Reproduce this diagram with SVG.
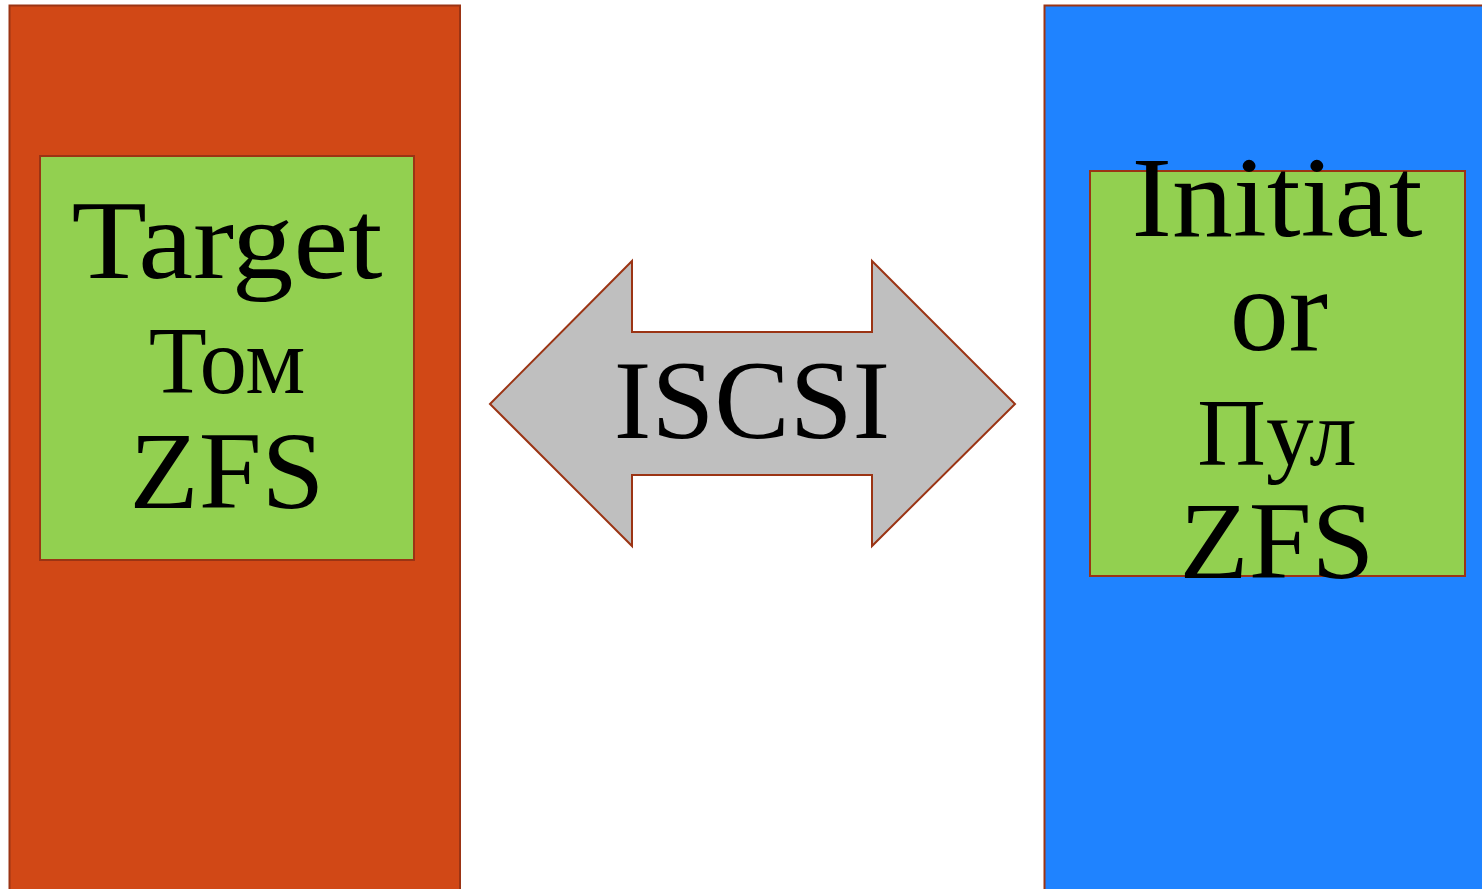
<svg xmlns="http://www.w3.org/2000/svg" width="1482" height="889" viewBox="0 0 1482 889">
  <style>
    .edge { stroke: #9b3414; stroke-width: 2; }
    .lbl { font-family: "Liberation Serif", "Times New Roman", serif; fill: #000; text-anchor: middle; }
  </style>
  <rect width="1482" height="889" fill="#ffffff"/>

  <!-- target host -->
  <g id="target-host">
    <rect class="edge" x="9.5" y="5.5" width="450.5" height="895" fill="#d14816"/>
  </g>
  <g id="target-volume">
    <rect class="edge" x="40" y="156" width="374" height="404" fill="#92d050"/>
    <text class="lbl" x="227" y="278" font-size="112" textLength="311" lengthAdjust="spacingAndGlyphs">Target</text>
    <text class="lbl" x="227" y="393" font-size="95">Том</text>
    <text class="lbl" x="227" y="508" font-size="110" textLength="195" lengthAdjust="spacingAndGlyphs">ZFS</text>
  </g>

  <!-- initiator host -->
  <g id="initiator-host">
    <rect class="edge" x="1044.5" y="5.5" width="450" height="895" fill="#1f83ff"/>
  </g>
  <g id="initiator-pool">
    <rect class="edge" x="1090" y="171" width="375" height="405" fill="#92d050"/>
    <text class="lbl" x="1277" y="236" font-size="114" textLength="291" lengthAdjust="spacingAndGlyphs">Initiat</text>
    <text class="lbl" x="1279" y="350" font-size="118">or</text>
    <text class="lbl" x="1277" y="465" font-size="95">Пул</text>
    <text class="lbl" x="1277" y="578" font-size="110" textLength="195" lengthAdjust="spacingAndGlyphs">ZFS</text>
  </g>

  <!-- connectors -->
  <g id="connectors">
    <g id="iscsi-link">
      <polygon class="edge" fill="#bfbfbf" points="490,404 632,261 632,332 872,332 872,261 1015,404 872,546 872,475 632,475 632,546"/>
      <text class="lbl" x="752" y="438" font-size="113">ISCSI</text>
    </g>
  </g>
</svg>
